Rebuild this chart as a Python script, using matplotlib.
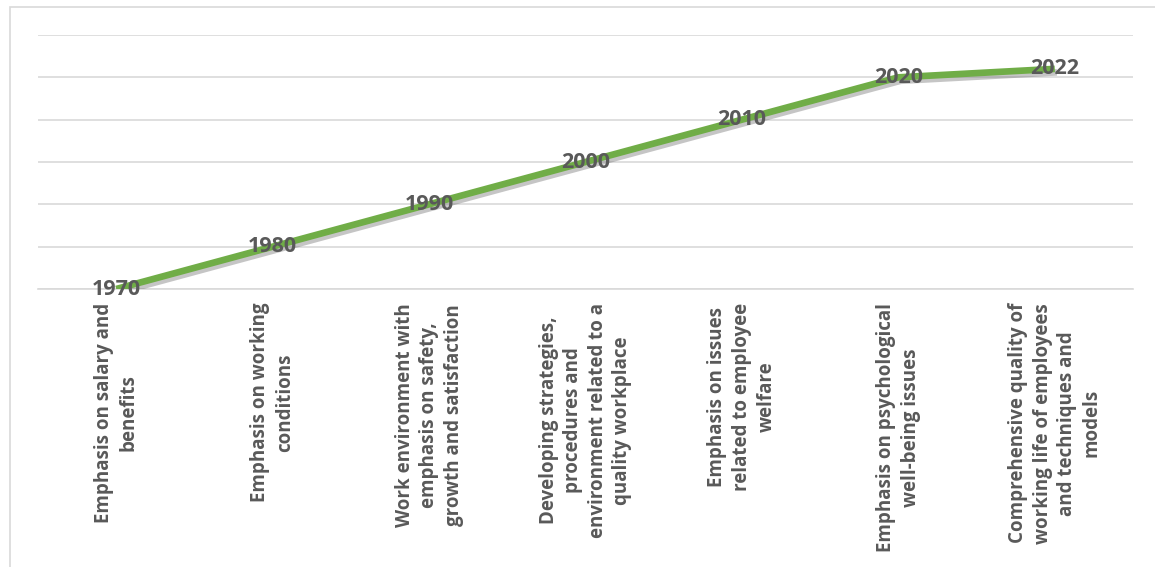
import matplotlib
matplotlib.use("Agg")
import matplotlib.pyplot as plt
import matplotlib.patheffects as pe
from matplotlib.patches import Rectangle

stages = [
    "Emphasis on salary and\nbenefits",
    "Emphasis on working\nconditions",
    "Work environment with\nemphasis on safety,\ngrowth and satisfaction",
    "Developing strategies,\nprocedures and\nenvironment related to a\nquality workplace",
    "Emphasis on issues\nrelated to employee\nwelfare",
    "Emphasis on psychological\nwell-being issues",
    "Comprehensive quality of\nworking life of employees\nand techniques and\nmodels",
]
years = [1970, 1980, 1990, 2000, 2010, 2020, 2022]

plt.rcParams['font.family'] = ['Open Sans', 'DejaVu Sans']
grey_text = '#595959'
grid_col = '#D9D9D9'

fig = plt.figure(figsize=(11.55, 5.67), dpi=100)
ax = fig.add_axes([38 / 1155, 1 - 289 / 567, (1133 - 38) / 1155, (289 - 35) / 567])

x = list(range(len(years)))
ax.plot(x, years, color='#70AD47', lw=4.8, solid_capstyle='butt', zorder=3,
        path_effects=[pe.SimpleLineShadow(offset=(1.5, -2.5), shadow_color='#6f6f6f', alpha=0.4),
                      pe.Normal()])

for xi, yr in zip(x, years):
    ax.text(xi, yr, str(yr), ha='center', va='center', fontsize=15.5,
            fontweight='bold', color=grey_text, zorder=4)

ax.set_xlim(-0.5, len(years) - 0.5)
ax.set_ylim(1970, 2030)
ax.set_yticks(range(1970, 2031, 10))
ax.yaxis.grid(True, color=grid_col, lw=1.2)
ax.set_axisbelow(True)
ax.tick_params(axis='y', left=False, labelleft=False)
ax.tick_params(axis='x', length=0, pad=10)
ax.set_xticks(x)
ax.set_xticklabels(stages, rotation=90, fontsize=13.5, fontweight='bold',
                   color=grey_text, multialignment='center', linespacing=1.3)
for side in ('top', 'right', 'left'):
    ax.spines[side].set_visible(False)
ax.spines['bottom'].set_color(grid_col)
ax.spines['bottom'].set_linewidth(1.2)

# outer chart frame, running off the right and bottom edges
fig.patches.append(Rectangle((10 / 1155, -0.1), 1.2, 1 - 7 / 567 + 0.1,
                             transform=fig.transFigure, fill=False,
                             edgecolor=grid_col, lw=1.2))

fig.savefig('out.png', dpi=100)
